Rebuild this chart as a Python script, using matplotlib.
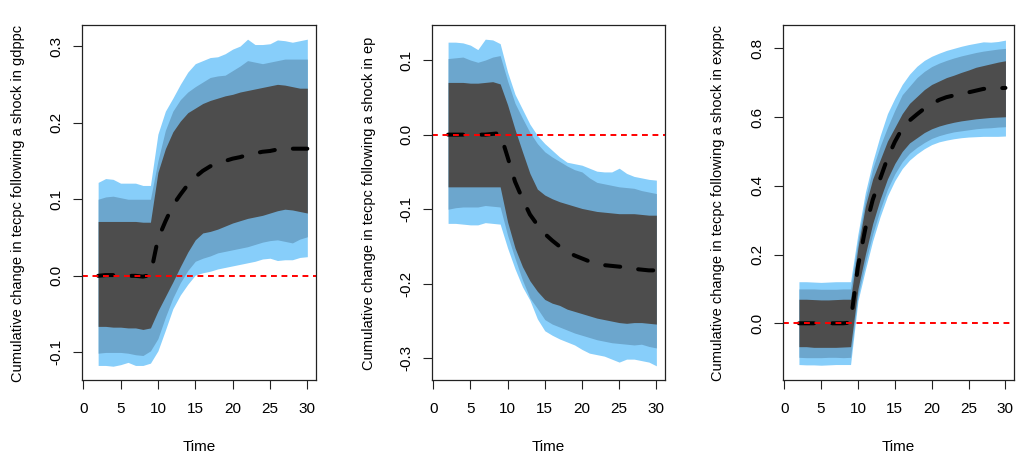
import numpy as np
import matplotlib
matplotlib.use("Agg")
import matplotlib.pyplot as plt

plt.rcParams['font.family'] = ['Liberation Sans', 'DejaVu Sans']

# horizon
x = list(range(2, 31))

# shock in gdppc
mean1 = [0.000, 0.001, 0.001, 0.000, 0.000, 0.000, -0.001, 0.001, 0.048, 0.071, 0.092, 0.106, 0.119, 0.129, 0.137,
         0.143, 0.147, 0.150, 0.153, 0.155, 0.158, 0.160, 0.162, 0.163, 0.165, 0.166, 0.166, 0.166, 0.166]
light_u1 = [0.122, 0.127, 0.126, 0.121, 0.121, 0.121, 0.118, 0.118, 0.185, 0.215, 0.232, 0.250, 0.266, 0.277, 0.281,
            0.285, 0.286, 0.290, 0.296, 0.300, 0.309, 0.302, 0.302, 0.303, 0.308, 0.307, 0.305, 0.307, 0.309]
med_u1 = [0.100, 0.103, 0.104, 0.102, 0.100, 0.100, 0.100, 0.100, 0.150, 0.190, 0.215, 0.230, 0.240, 0.247, 0.253,
          0.259, 0.261, 0.262, 0.268, 0.274, 0.281, 0.279, 0.277, 0.279, 0.281, 0.283, 0.283, 0.283, 0.283]
dark_u1 = [0.071, 0.071, 0.071, 0.071, 0.071, 0.071, 0.070, 0.070, 0.135, 0.166, 0.188, 0.202, 0.213, 0.219, 0.225,
           0.229, 0.232, 0.235, 0.237, 0.240, 0.242, 0.244, 0.246, 0.248, 0.250, 0.249, 0.247, 0.245, 0.245]
dark_l1 = [-0.066, -0.066, -0.067, -0.067, -0.068, -0.068, -0.070, -0.068, -0.046, -0.027, -0.008, 0.012, 0.031,
           0.047, 0.056, 0.058, 0.061, 0.065, 0.069, 0.072, 0.075, 0.077, 0.079, 0.082, 0.085, 0.087, 0.086, 0.084, 0.082]
med_l1 = [-0.101, -0.100, -0.100, -0.100, -0.101, -0.103, -0.104, -0.098, -0.082, -0.054, -0.029, -0.009, 0.007,
          0.019, 0.023, 0.026, 0.030, 0.032, 0.034, 0.036, 0.038, 0.041, 0.044, 0.046, 0.047, 0.045, 0.043, 0.048, 0.051]
light_l1 = [-0.117, -0.117, -0.118, -0.116, -0.113, -0.117, -0.117, -0.114, -0.098, -0.071, -0.043, -0.025, -0.011,
            0.001, 0.004, 0.006, 0.009, 0.011, 0.013, 0.015, 0.017, 0.019, 0.022, 0.023, 0.020, 0.021, 0.021, 0.024, 0.025]

# shock in ep
mean2 = [0.000, 0.000, 0.000, 0.000, 0.000, 0.000, 0.001, 0.002, -0.030, -0.063, -0.086, -0.107, -0.121, -0.133,
         -0.142, -0.150, -0.157, -0.162, -0.166, -0.170, -0.172, -0.175, -0.176, -0.177, -0.178, -0.180, -0.181, -0.182, -0.182]
light_u2 = [0.124, 0.124, 0.123, 0.120, 0.114, 0.128, 0.127, 0.122, 0.084, 0.054, 0.034, 0.014, -0.001, -0.012,
            -0.021, -0.030, -0.037, -0.039, -0.041, -0.045, -0.049, -0.050, -0.050, -0.045, -0.052, -0.056, -0.058, -0.060, -0.061]
med_u2 = [0.102, 0.103, 0.104, 0.100, 0.097, 0.100, 0.104, 0.106, 0.072, 0.042, 0.022, 0.003, -0.012, -0.023,
          -0.030, -0.036, -0.042, -0.047, -0.050, -0.058, -0.064, -0.066, -0.068, -0.070, -0.071, -0.072, -0.075, -0.077, -0.079]
dark_u2 = [0.070, 0.070, 0.070, 0.069, 0.069, 0.070, 0.071, 0.068, 0.040, 0.007, -0.023, -0.052, -0.073, -0.081,
           -0.086, -0.090, -0.093, -0.096, -0.099, -0.101, -0.103, -0.104, -0.105, -0.106, -0.106, -0.106, -0.107, -0.108, -0.108]
dark_l2 = [-0.070, -0.070, -0.070, -0.070, -0.070, -0.070, -0.070, -0.070, -0.117, -0.152, -0.177, -0.196, -0.210,
           -0.221, -0.226, -0.229, -0.234, -0.237, -0.240, -0.243, -0.246, -0.248, -0.250, -0.252, -0.253, -0.252, -0.252, -0.253, -0.254]
med_l2 = [-0.100, -0.098, -0.097, -0.097, -0.097, -0.095, -0.096, -0.097, -0.135, -0.166, -0.195, -0.219, -0.233,
          -0.248, -0.254, -0.258, -0.262, -0.266, -0.269, -0.272, -0.275, -0.277, -0.279, -0.280, -0.281, -0.282, -0.281, -0.284, -0.286]
light_l2 = [-0.119, -0.119, -0.120, -0.121, -0.121, -0.118, -0.119, -0.120, -0.152, -0.180, -0.204, -0.222, -0.247,
            -0.263, -0.269, -0.274, -0.278, -0.282, -0.288, -0.293, -0.295, -0.297, -0.301, -0.305, -0.301, -0.301, -0.303, -0.305, -0.310]

# shock in exppc
mean3 = [0.000, 0.000, 0.000, 0.000, 0.000, 0.000, 0.000, 0.002, 0.165, 0.275, 0.359, 0.420, 0.480, 0.528, 0.567,
         0.590, 0.608, 0.625, 0.638, 0.650, 0.658, 0.663, 0.667, 0.672, 0.677, 0.682, 0.684, 0.684, 0.685]
light_u3 = [0.121, 0.121, 0.120, 0.119, 0.120, 0.121, 0.121, 0.121, 0.260, 0.380, 0.470, 0.545, 0.610, 0.655, 0.695,
            0.725, 0.748, 0.765, 0.777, 0.786, 0.794, 0.800, 0.806, 0.811, 0.815, 0.819, 0.818, 0.820, 0.824]
med_u3 = [0.100, 0.100, 0.100, 0.099, 0.099, 0.099, 0.100, 0.100, 0.240, 0.360, 0.450, 0.515, 0.570, 0.620, 0.665,
          0.690, 0.715, 0.733, 0.747, 0.757, 0.765, 0.772, 0.778, 0.783, 0.788, 0.792, 0.795, 0.798, 0.800]
dark_u3 = [0.070, 0.070, 0.069, 0.068, 0.068, 0.069, 0.070, 0.070, 0.220, 0.340, 0.420, 0.475, 0.530, 0.570, 0.610,
           0.640, 0.660, 0.680, 0.695, 0.705, 0.715, 0.722, 0.730, 0.737, 0.745, 0.750, 0.755, 0.760, 0.764]
dark_l3 = [-0.068, -0.068, -0.070, -0.070, -0.070, -0.070, -0.069, -0.068, 0.100, 0.200, 0.290, 0.360, 0.420, 0.465,
           0.500, 0.525, 0.540, 0.555, 0.566, 0.574, 0.580, 0.585, 0.589, 0.592, 0.595, 0.597, 0.599, 0.600, 0.601]
med_l3 = [-0.099, -0.100, -0.100, -0.100, -0.099, -0.099, -0.100, -0.099, 0.080, 0.175, 0.260, 0.330, 0.390, 0.435,
          0.470, 0.495, 0.512, 0.526, 0.538, 0.546, 0.552, 0.557, 0.560, 0.563, 0.566, 0.568, 0.569, 0.571, 0.572]
light_l3 = [-0.120, -0.121, -0.121, -0.122, -0.121, -0.120, -0.120, -0.120, 0.065, 0.155, 0.240, 0.310, 0.370, 0.415,
            0.450, 0.475, 0.493, 0.508, 0.520, 0.528, 0.533, 0.537, 0.540, 0.542, 0.543, 0.544, 0.544, 0.544, 0.545]

shocks = ['gdppc', 'ep', 'exppc']
means = [mean1, mean2, mean3]
bands = [
    [(light_l1, light_u1), (med_l1, med_u1), (dark_l1, dark_u1)],
    [(light_l2, light_u2), (med_l2, med_u2), (dark_l2, dark_u2)],
    [(light_l3, light_u3), (med_l3, med_u3), (dark_l3, dark_u3)],
]
yticks = [[-0.1, 0.0, 0.1, 0.2, 0.3],
          [-0.3, -0.2, -0.1, 0.0, 0.1],
          [0.0, 0.2, 0.4, 0.6, 0.8]]
ylims = [(-0.136, 0.3275), (-0.329, 0.147), (-0.165, 0.868)]
band_colors = ['#87CEFA', '#6CA6CD', '#4D4D4D']

W, H = 1016, 459
lefts = [82, 432, 783]
rights = [316, 665, 1014]
ylab_x = [18, 369, 718]
top, bottom = 25, 380

fig = plt.figure(figsize=(W / 100, H / 100), dpi=100)

for i in range(3):
    ax = fig.add_axes([lefts[i] / W, 1 - bottom / H, (rights[i] - lefts[i]) / W, (bottom - top) / H])
    for (lo, hi), col in zip(bands[i], band_colors):
        ax.fill_between(x, lo, hi, color=col, linewidth=0)
    ax.plot(x, means[i], color='black', lw=2.9, linestyle=(0, (3.75, 4.5)), dash_capstyle='round')
    ax.axhline(0, color='red', lw=1.4, linestyle=(0, (3.0, 2.4)))

    ax.set_xlim(-0.16, 31.16)
    ax.set_ylim(*ylims[i])
    ax.set_xticks([0, 5, 10, 15, 20, 25, 30])
    ax.set_yticks(yticks[i])
    ax.set_yticklabels(['%.1f' % v for v in yticks[i]])
    ax.tick_params(axis='both', length=6.5, width=0.8, labelsize=11, color='#222222')
    ax.tick_params(axis='x', pad=9)
    ax.tick_params(axis='y', pad=7, labelrotation=90)
    for lbl in ax.get_yticklabels():
        lbl.set_va('center')
    for s in ax.spines.values():
        s.set_linewidth(0.9)
        s.set_color('#222222')

    ax.set_xlabel('Time', fontsize=11)
    ax.xaxis.set_label_coords(0.5, -0.189)
    ax.xaxis.label.set_va('center')

    fig.text(ylab_x[i] / W, 1 - 203 / H, 'Cumulative change in tecpc following a shock in ' + shocks[i],
             rotation=90, ha='center', va='center', fontsize=10.5)

fig.savefig('out.png', dpi=100)
